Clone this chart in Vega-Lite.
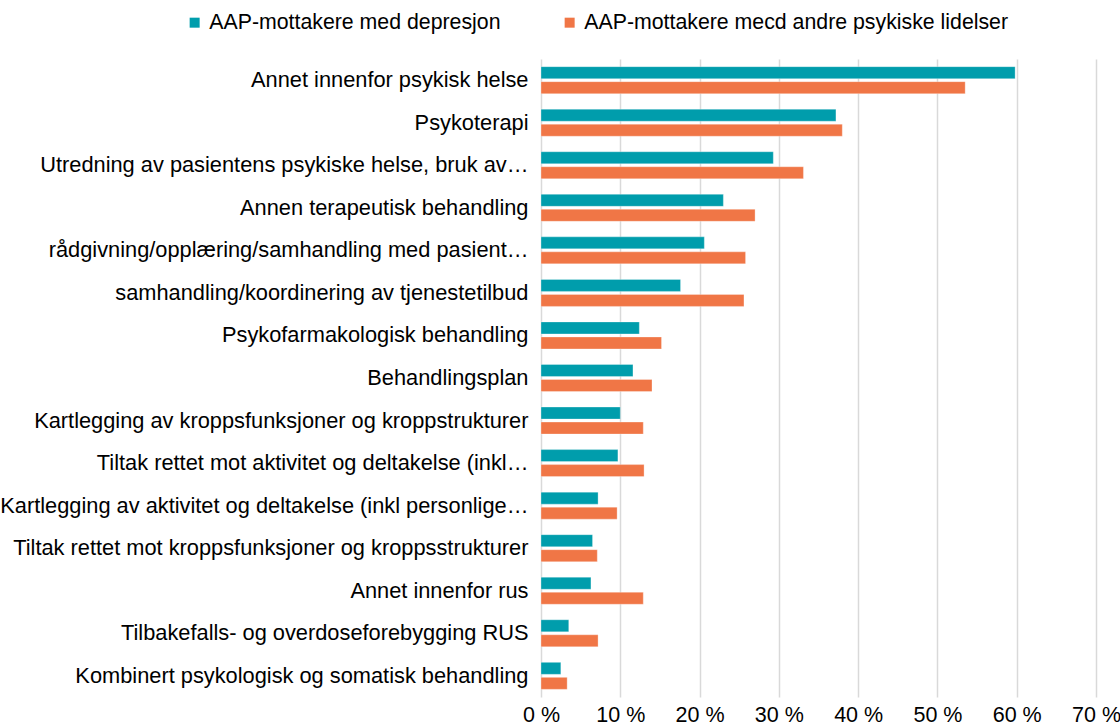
{
  "$schema": "https://vega.github.io/schema/vega-lite/v6.json",
  "width": 555,
  "height": 638,
  "autosize": "none",
  "padding": {"left": 541, "top": 59, "right": 24, "bottom": 31},
  "background": "white",
  "config": {
    "font": "Liberation Sans",
    "view": {"stroke": null}
  },
  "data": {
    "values": [
      {"tiltak": "Annet innenfor psykisk helse ", "gruppe": "AAP-mottakere med depresjon", "andel": 59.8},
      {"tiltak": "Annet innenfor psykisk helse ", "gruppe": "AAP-mottakere mecd andre psykiske lidelser", "andel": 53.5},
      {"tiltak": "Psykoterapi ", "gruppe": "AAP-mottakere med depresjon", "andel": 37.2},
      {"tiltak": "Psykoterapi ", "gruppe": "AAP-mottakere mecd andre psykiske lidelser", "andel": 38.0},
      {"tiltak": "Utredning av pasientens psykiske helse, bruk av…", "gruppe": "AAP-mottakere med depresjon", "andel": 29.3},
      {"tiltak": "Utredning av pasientens psykiske helse, bruk av…", "gruppe": "AAP-mottakere mecd andre psykiske lidelser", "andel": 33.1},
      {"tiltak": "Annen terapeutisk behandling ", "gruppe": "AAP-mottakere med depresjon", "andel": 23.0},
      {"tiltak": "Annen terapeutisk behandling ", "gruppe": "AAP-mottakere mecd andre psykiske lidelser", "andel": 27.0},
      {"tiltak": "rådgivning/opplæring/samhandling med pasient…", "gruppe": "AAP-mottakere med depresjon", "andel": 20.6},
      {"tiltak": "rådgivning/opplæring/samhandling med pasient…", "gruppe": "AAP-mottakere mecd andre psykiske lidelser", "andel": 25.8},
      {"tiltak": "samhandling/koordinering av tjenestetilbud ", "gruppe": "AAP-mottakere med depresjon", "andel": 17.6},
      {"tiltak": "samhandling/koordinering av tjenestetilbud ", "gruppe": "AAP-mottakere mecd andre psykiske lidelser", "andel": 25.6},
      {"tiltak": "Psykofarmakologisk behandling ", "gruppe": "AAP-mottakere med depresjon", "andel": 12.4},
      {"tiltak": "Psykofarmakologisk behandling ", "gruppe": "AAP-mottakere mecd andre psykiske lidelser", "andel": 15.2},
      {"tiltak": "Behandlingsplan ", "gruppe": "AAP-mottakere med depresjon", "andel": 11.6},
      {"tiltak": "Behandlingsplan ", "gruppe": "AAP-mottakere mecd andre psykiske lidelser", "andel": 14.0},
      {"tiltak": "Kartlegging av kroppsfunksjoner og kroppstrukturer ", "gruppe": "AAP-mottakere med depresjon", "andel": 10.0},
      {"tiltak": "Kartlegging av kroppsfunksjoner og kroppstrukturer ", "gruppe": "AAP-mottakere mecd andre psykiske lidelser", "andel": 12.9},
      {"tiltak": "Tiltak rettet mot aktivitet og deltakelse (inkl…", "gruppe": "AAP-mottakere med depresjon", "andel": 9.7},
      {"tiltak": "Tiltak rettet mot aktivitet og deltakelse (inkl…", "gruppe": "AAP-mottakere mecd andre psykiske lidelser", "andel": 13.0},
      {"tiltak": "Kartlegging av aktivitet og deltakelse (inkl personlige…", "gruppe": "AAP-mottakere med depresjon", "andel": 7.2},
      {"tiltak": "Kartlegging av aktivitet og deltakelse (inkl personlige…", "gruppe": "AAP-mottakere mecd andre psykiske lidelser", "andel": 9.6},
      {"tiltak": "Tiltak rettet mot kroppsfunksjoner og kroppsstrukturer", "gruppe": "AAP-mottakere med depresjon", "andel": 6.5},
      {"tiltak": "Tiltak rettet mot kroppsfunksjoner og kroppsstrukturer", "gruppe": "AAP-mottakere mecd andre psykiske lidelser", "andel": 7.1},
      {"tiltak": "Annet innenfor rus ", "gruppe": "AAP-mottakere med depresjon", "andel": 6.3},
      {"tiltak": "Annet innenfor rus ", "gruppe": "AAP-mottakere mecd andre psykiske lidelser", "andel": 12.9},
      {"tiltak": "Tilbakefalls- og overdoseforebygging RUS ", "gruppe": "AAP-mottakere med depresjon", "andel": 3.5},
      {"tiltak": "Tilbakefalls- og overdoseforebygging RUS ", "gruppe": "AAP-mottakere mecd andre psykiske lidelser", "andel": 7.2},
      {"tiltak": "Kombinert psykologisk og somatisk behandling ", "gruppe": "AAP-mottakere med depresjon", "andel": 2.5},
      {"tiltak": "Kombinert psykologisk og somatisk behandling ", "gruppe": "AAP-mottakere mecd andre psykiske lidelser", "andel": 3.3}
    ]
  },
  "mark": {"type": "bar", "stroke": "white", "strokeWidth": 0.5, "strokeOpacity": 0.6},
  "encoding": {
    "y": {
      "field": "tiltak",
      "type": "nominal",
      "sort": null,
      "scale": {"paddingInner": 0.365, "paddingOuter": 0.18},
      "axis": {
        "title": null,
        "ticks": false,
        "domain": false,
        "labelFontSize": 21.8,
        "labelColor": "#000000",
        "labelPadding": 13,
        "labelLimit": 700
      }
    },
    "yOffset": {
      "field": "gruppe",
      "type": "nominal",
      "sort": ["AAP-mottakere med depresjon", "AAP-mottakere mecd andre psykiske lidelser"],
      "scale": {"paddingInner": 0.2}
    },
    "x": {
      "field": "andel",
      "type": "quantitative",
      "scale": {"domain": [0, 70], "nice": false},
      "axis": {
        "title": null,
        "values": [0, 10, 20, 30, 40, 50, 60, 70],
        "labelExpr": "datum.value + ' %'",
        "grid": true,
        "gridColor": "#d9d9d9",
        "gridWidth": 1.5,
        "domain": false,
        "ticks": false,
        "labelFontSize": 21.5,
        "labelColor": "#000000",
        "labelPadding": 7,
        "labelFlush": false,
        "labelOverlap": false
      }
    },
    "color": {
      "field": "gruppe",
      "type": "nominal",
      "sort": ["AAP-mottakere med depresjon", "AAP-mottakere mecd andre psykiske lidelser"],
      "scale": {
        "domain": ["AAP-mottakere med depresjon", "AAP-mottakere mecd andre psykiske lidelser"],
        "range": ["#009DAC", "#F07646"]
      },
      "legend": {
        "title": null,
        "orient": "none",
        "direction": "horizontal",
        "legendX": -357,
        "legendY": -47,
        "symbolType": "square",
        "symbolSize": 100,
        "symbolStrokeWidth": 0,
        "labelFontSize": 21.3,
        "labelColor": "#000000",
        "labelOffset": 4,
        "columnPadding": 58,
        "labelLimit": 600
      }
    }
  }
}
